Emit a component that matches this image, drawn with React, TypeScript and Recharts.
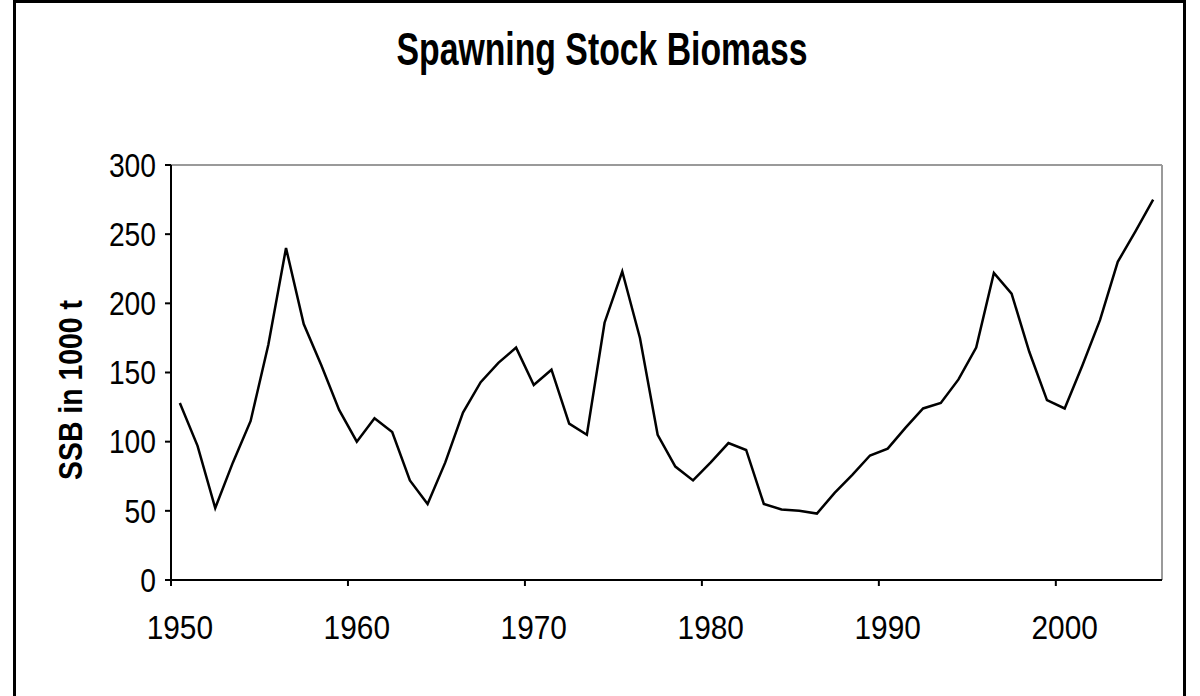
import React from "react";
import { LineChart, Line, XAxis, YAxis, ReferenceLine } from "recharts";

const years = [
  1950, 1951, 1952, 1953, 1954, 1955, 1956, 1957, 1958, 1959,
  1960, 1961, 1962, 1963, 1964, 1965, 1966, 1967, 1968, 1969,
  1970, 1971, 1972, 1973, 1974, 1975, 1976, 1977, 1978, 1979,
  1980, 1981, 1982, 1983, 1984, 1985, 1986, 1987, 1988, 1989,
  1990, 1991, 1992, 1993, 1994, 1995, 1996, 1997, 1998, 1999,
  2000, 2001, 2002, 2003, 2004, 2005,
];

const ssb = [
  128, 97, 52, 85, 115, 170, 240, 185, 155, 123,
  100, 117, 107, 72, 55, 85, 121, 143, 157, 168,
  141, 152, 113, 105, 186, 223, 175, 105, 82, 72,
  85, 99, 94, 55, 51, 50, 48, 63, 76, 90,
  95, 110, 124, 128, 145, 168, 222, 207, 165, 130,
  124, 155, 188, 230, 252, 275,
];

const xTickBounds = [1949.5, 1959.5, 1969.5, 1979.5, 1989.5, 1999.5];
const xTickLabels = ["1950", "1960", "1970", "1980", "1990", "2000"];
const yTicks = [0, 50, 100, 150, 200, 250, 300];

const title = "Spawning Stock Biomass";
const yLabel = "SSB in 1000 t";

const data = years.map((y, i) => ({ year: y, ssb: ssb[i] }));

const FONT = "'Liberation Sans', Arial, sans-serif";
const HALF_BAND = (1162 - 171) / 56 / 2;

const XTick = (props: any) => {
  const { x, y, index } = props;
  const label = xTickLabels[index] ?? "";
  return (
    <text
      x={x + HALF_BAND}
      y={y}
      dy="0.71em"
      textAnchor="middle"
      fontFamily={FONT}
      fontSize={33}
      fill="#000"
      textLength={label.length * 16.6}
      lengthAdjust="spacingAndGlyphs"
    >
      {label}
    </text>
  );
};

const YTick = (props: any) => {
  const { x, y, payload } = props;
  const label = String(payload.value);
  return (
    <text
      x={x}
      y={y}
      dy="0.355em"
      textAnchor="end"
      fontFamily={FONT}
      fontSize={33}
      fill="#000"
      textLength={label.length * 15.7}
      lengthAdjust="spacingAndGlyphs"
    >
      {label}
    </text>
  );
};

export default function App() {
  return (
    <div
      style={{
        position: "absolute",
        left: 0,
        top: 0,
        width: 1200,
        height: 696,
        overflow: "hidden",
        background: "#fff",
      }}
    >
      <div
        style={{
          position: "absolute",
          left: 13,
          top: 0,
          width: 1167,
          height: 730,
          border: "3px solid #000",
        }}
      />
      <div style={{ position: "absolute", left: 0, top: 0 }}>
        <LineChart
          width={1200}
          height={696}
          data={data}
          margin={{ top: 165, right: 38, bottom: 0, left: 0 }}
        >
          <XAxis
            dataKey="year"
            type="number"
            domain={[1949.5, 2005.5]}
            ticks={xTickBounds}
            allowDecimals
            height={116}
            axisLine={{ stroke: "#000", strokeWidth: 2 }}
            tickLine={{ stroke: "#000", strokeWidth: 2 }}
            tickSize={6}
            tickMargin={30}
            tick={<XTick />}
            interval={0}
          />
          <YAxis
            type="number"
            domain={[0, 300]}
            ticks={yTicks}
            width={171}
            axisLine={{ stroke: "#000", strokeWidth: 2 }}
            tickLine={{ stroke: "#000", strokeWidth: 2 }}
            tickSize={6}
            tickMargin={9}
            tick={<YTick />}
            interval={0}
          />
          <ReferenceLine y={300} stroke="#9a9a9a" strokeWidth={2} />
          <ReferenceLine x={2005.5} stroke="#9a9a9a" strokeWidth={2} />
          <Line
            type="linear"
            dataKey="ssb"
            stroke="#000"
            strokeWidth={2.5}
            dot={false}
            isAnimationActive={false}
          />
        </LineChart>
      </div>
      <svg
        width={1200}
        height={696}
        style={{ position: "absolute", left: 0, top: 0, pointerEvents: "none" }}
      >
        <text
          x={602}
          y={65}
          textAnchor="middle"
          fontFamily={FONT}
          fontWeight="bold"
          fontSize={46}
          fill="#000"
          textLength={411}
          lengthAdjust="spacingAndGlyphs"
        >
          {title}
        </text>
        <text
          x={82}
          y={390}
          transform="rotate(-90, 82, 390)"
          textAnchor="middle"
          fontFamily={FONT}
          fontWeight="bold"
          fontSize={34}
          fill="#000"
          textLength={180}
          lengthAdjust="spacingAndGlyphs"
        >
          {yLabel}
        </text>
      </svg>
    </div>
  );
}
